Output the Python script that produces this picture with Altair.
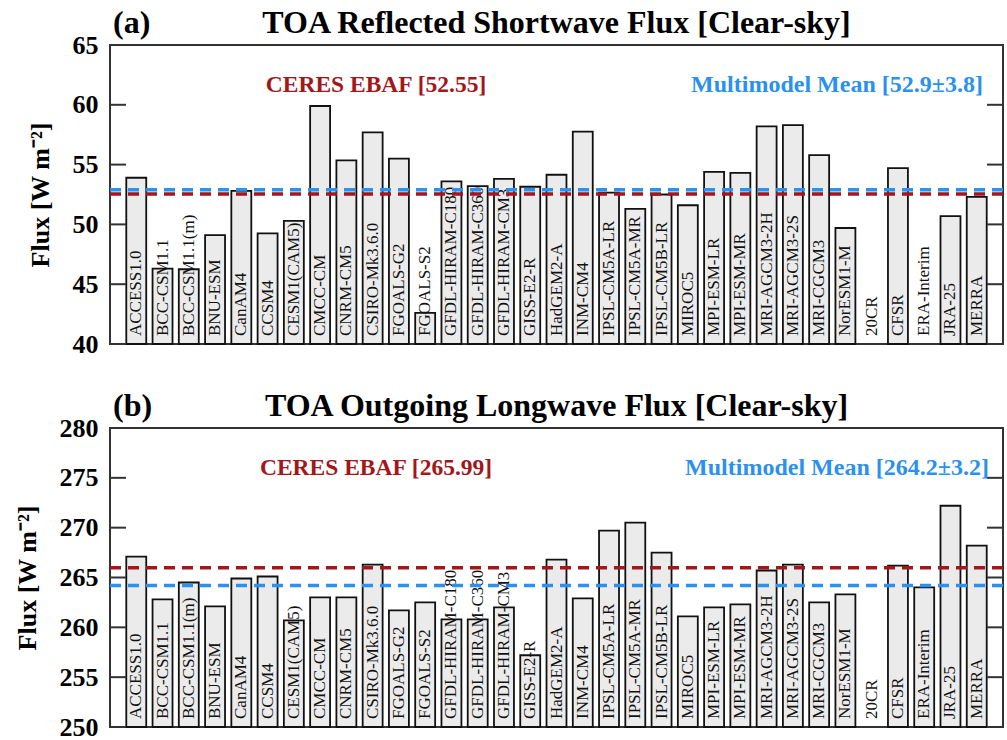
import altair as alt
import pandas as pd

FONT = "Liberation Serif"
RED = "#a3161a"
BLUE = "#2b91f0"

models = ["ACCESS1.0", "BCC-CSM1.1", "BCC-CSM1.1(m)", "BNU-ESM", "CanAM4", "CCSM4",
          "CESM1(CAM5)", "CMCC-CM", "CNRM-CM5", "CSIRO-Mk3.6.0", "FGOALS-G2", "FGOALS-S2",
          "GFDL-HIRAM-C180", "GFDL-HIRAM-C360", "GFDL-HIRAM-CM3", "GISS-E2-R", "HadGEM2-A",
          "INM-CM4", "IPSL-CM5A-LR", "IPSL-CM5A-MR", "IPSL-CM5B-LR", "MIROC5", "MPI-ESM-LR",
          "MPI-ESM-MR", "MRI-AGCM3-2H", "MRI-AGCM3-2S", "MRI-CGCM3", "NorESM1-M", "20CR",
          "CFSR", "ERA-Interim", "JRA-25", "MERRA"]

sw_flux = [53.9, 46.3, 46.25, 49.1, 52.8, 49.25, 50.3, 59.9, 55.35, 57.7, 55.5, 42.6,
           53.6, 53.2, 53.8, 53.15, 54.15, 57.75, 52.65, 51.3, 52.5, 51.6, 54.4,
           54.3, 58.2, 58.3, 55.8, 49.7, None, 54.7, None, 50.7, 52.3]

lw_flux = [267.1, 262.8, 264.5, 262.1, 264.9, 265.1, 260.7, 263.0, 263.0, 266.3, 261.7, 262.5,
           260.8, 260.8, 262.0, 257.2, 266.8, 262.9, 269.7, 270.5, 267.5, 261.1, 262.0,
           262.3, 265.7, 266.3, 262.5, 263.3, None, 266.2, 264.0, 272.2, 268.2]

sw_ticks = [40, 45, 50, 55, 60, 65]
lw_ticks = [250, 255, 260, 265, 270, 275, 280]

W, H = 893, 299
YTITLE = "Flux [W m⁻²]"


def panel(vals, ymin, ymax, ticks, ceres, mean, tag, title, ceres_lbl, mean_lbl):
    df = pd.DataFrame({"model": models, "value": vals})
    ysc = alt.Scale(domain=[ymin, ymax], nice=False, zero=False)
    xenc = alt.X("model:N", sort=models, axis=None,
                 scale=alt.Scale(paddingInner=0.24, paddingOuter=0.62))

    bars = alt.Chart(df).transform_filter("isValid(datum.value)").mark_bar(
        fill="#ebebeb", stroke="#111", strokeWidth=1.8
    ).encode(
        x=xenc,
        y=alt.Y("value:Q", scale=ysc, title=YTITLE,
                axis=alt.Axis(values=ticks, title=YTITLE)),
        y2=alt.datum(ymin),
    )

    labels = alt.Chart(df).mark_text(
        angle=270, align="left", baseline="middle", font=FONT, fontSize=17, color="#111"
    ).encode(x=xenc, y=alt.value(H - 8), text="model:N")

    tk = pd.DataFrame({"t": ticks})
    lt = alt.Chart(tk).mark_rule(color="#333", strokeWidth=2).encode(
        y=alt.Y("t:Q", scale=ysc, title=YTITLE), x=alt.value(0), x2=alt.value(16))
    rt = alt.Chart(tk).mark_rule(color="#333", strokeWidth=2).encode(
        y=alt.Y("t:Q", scale=ysc, title=YTITLE), x=alt.value(W - 16), x2=alt.value(W))

    cr = alt.Chart(pd.DataFrame({"v": [ceres]})).mark_rule(
        color=RED, strokeWidth=3.5, strokeDash=[11, 7]
    ).encode(y=alt.Y("v:Q", scale=ysc, title=YTITLE), x=alt.value(0), x2=alt.value(W))
    mr = alt.Chart(pd.DataFrame({"v": [mean]})).mark_rule(
        color=BLUE, strokeWidth=3.5, strokeDash=[11, 7]
    ).encode(y=alt.Y("v:Q", scale=ysc, title=YTITLE), x=alt.value(0), x2=alt.value(W))

    ctext = alt.Chart(pd.DataFrame({"t": [ceres_lbl]})).mark_text(
        font=FONT, fontWeight="bold", fontSize=23.5, color=RED, align="center", baseline="middle"
    ).encode(x=alt.value(266), y=alt.value(40), text="t:N")
    mtext = alt.Chart(pd.DataFrame({"t": [mean_lbl]})).mark_text(
        font=FONT, fontWeight="bold", fontSize=24, color=BLUE, align="center", baseline="middle"
    ).encode(x=alt.value(727), y=alt.value(40), text="t:N")

    tagt = alt.Chart(pd.DataFrame({"t": [tag]})).mark_text(
        font=FONT, fontWeight="bold", fontSize=32, color="black", align="left", baseline="alphabetic"
    ).encode(x=alt.value(3), y=alt.value(-12), text="t:N")
    titt = alt.Chart(pd.DataFrame({"t": [title]})).mark_text(
        font=FONT, fontWeight="bold", fontSize=32, color="black", align="center", baseline="alphabetic"
    ).encode(x=alt.value(W / 2), y=alt.value(-12), text="t:N")

    return alt.layer(bars, labels, lt, rt, cr, mr, ctext, mtext, tagt, titt).properties(
        width=W, height=H)


top = panel(sw_flux, 40, 65, sw_ticks, 52.55, 52.9, "(a)",
            "TOA Reflected Shortwave Flux [Clear-sky]",
            "CERES EBAF [52.55]", "Multimodel Mean [52.9±3.8]")
bottom = panel(lw_flux, 250, 280, lw_ticks, 265.99, 264.2, "(b)",
               "TOA Outgoing Longwave Flux [Clear-sky]",
               "CERES EBAF [265.99]", "Multimodel Mean [264.2±3.2]")

chart = alt.vconcat(top, bottom, spacing=31).configure_view(
    stroke="#333", strokeWidth=2
).configure_axis(
    labelFont=FONT, labelFontSize=26, labelFontWeight="bold", labelColor="black",
    titleFont=FONT, titleFontSize=26, titleFontWeight="bold", titleColor="black",
    domain=False, ticks=False, grid=False, labelPadding=12, titlePadding=19
).properties(
    padding={"left": 13, "top": 6, "right": 0, "bottom": 0}
)

chart.save("out.html", embed_options={"renderer": "svg", "actions": False})
